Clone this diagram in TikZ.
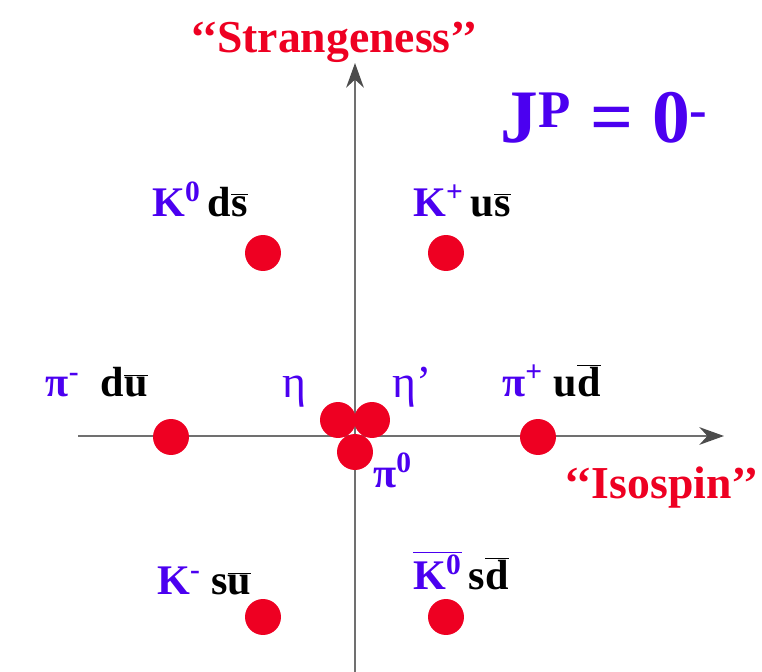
\documentclass[tikz,border=0pt]{standalone}
\usepackage{fontspec}
\setmainfont{Liberation Serif}
\usepackage{tikz}
\usetikzlibrary{arrows.meta}
\definecolor{mesonblue}{HTML}{4B00F0}
\definecolor{dotred}{HTML}{EE0022}
\definecolor{axisgray}{HTML}{707070}
\newcommand{\qbar}[1]{$\overline{\mbox{#1}}$}
\newcommand{\mname}[1]{{\color{mesonblue}#1}}

\begin{document}
\begin{tikzpicture}[x=0.02cm,y=-0.02cm,
  meson/.style={circle,fill=dotred,minimum size=0.72cm,inner sep=0pt},
  lbl/.style={font=\fontsize{24}{28}\selectfont\bfseries,inner sep=0pt,anchor=base west},
  axislabel/.style={font=\fontsize{26}{30}\selectfont\bfseries,text=dotred,inner sep=0pt},
  axisline/.style={axisgray,line width=1.6pt,-{Stealth[length=14pt,width=10pt,color=black!70]}}]
\useasboundingbox (0,0) rectangle (762,672);

% axes
\coordinate (iso-start) at (78,436);
\coordinate (iso-end) at (724,436);
\coordinate (str-start) at (355,672);
\coordinate (str-end) at (355,63);
\draw[axisline] (iso-start) -- (iso-end);
\draw[axisline] (str-start) -- (str-end);

% the nonet
\node[meson] (k0) at (263,253) {};
\node[meson] (kplus) at (446,253) {};
\node[meson] (piminus) at (171,437) {};
\node[meson] (piplus) at (538,437) {};
\node[meson] (eta) at (338,420) {};
\node[meson] (etaprime) at (372,420) {};
\node[meson] (pizero) at (355,452) {};
\node[meson] (kminus) at (263,617) {};
\node[meson] (k0bar) at (446,617) {};

% labels
\node[lbl] (k0-lbl) at (152,217) {\mname{K\textsuperscript{0}}\,d\qbar{s}};
\node[lbl] (kplus-lbl) at (413,217) {\mname{K\textsuperscript{+}}\,u\qbar{s}};
\node[lbl,anchor=base east] (piminus-lbl) at (148,397) {\mname{π\textsuperscript{-}}\ \ d\qbar{u}};
\node[lbl] (piplus-lbl) at (502,397) {\mname{π\textsuperscript{+}}\ u\qbar{d}};
\node[lbl,text=mesonblue,font=\fontsize{26}{30}\selectfont] (eta-lbl) at (282,398) {η};
\node[lbl,text=mesonblue,font=\fontsize{26}{30}\selectfont] (etaprime-lbl) at (392,398) {η’};
\node[lbl,text=mesonblue] (pizero-lbl) at (373,488) {π\textsuperscript{0}};
\node[lbl] (kminus-lbl) at (157,595) {\mname{K\textsuperscript{-}}\ s\qbar{u}};
\node[lbl] (k0bar-lbl) at (413,590) {\mname{\qbar{K\textsuperscript{0}}}\,s\qbar{d}};

\node[axislabel] (strangeness) at (334,42) {‘‘Strangeness’’};
\node[axislabel,anchor=east] (isospin) at (759,488) {‘‘Isospin’’};
\node[font=\fontsize{43}{47}\selectfont\bfseries,text=mesonblue,inner sep=0pt,anchor=base west] (jp) at (500,143) {J\textsuperscript{P} = 0\textsuperscript{-}};
\end{tikzpicture}
\end{document}
